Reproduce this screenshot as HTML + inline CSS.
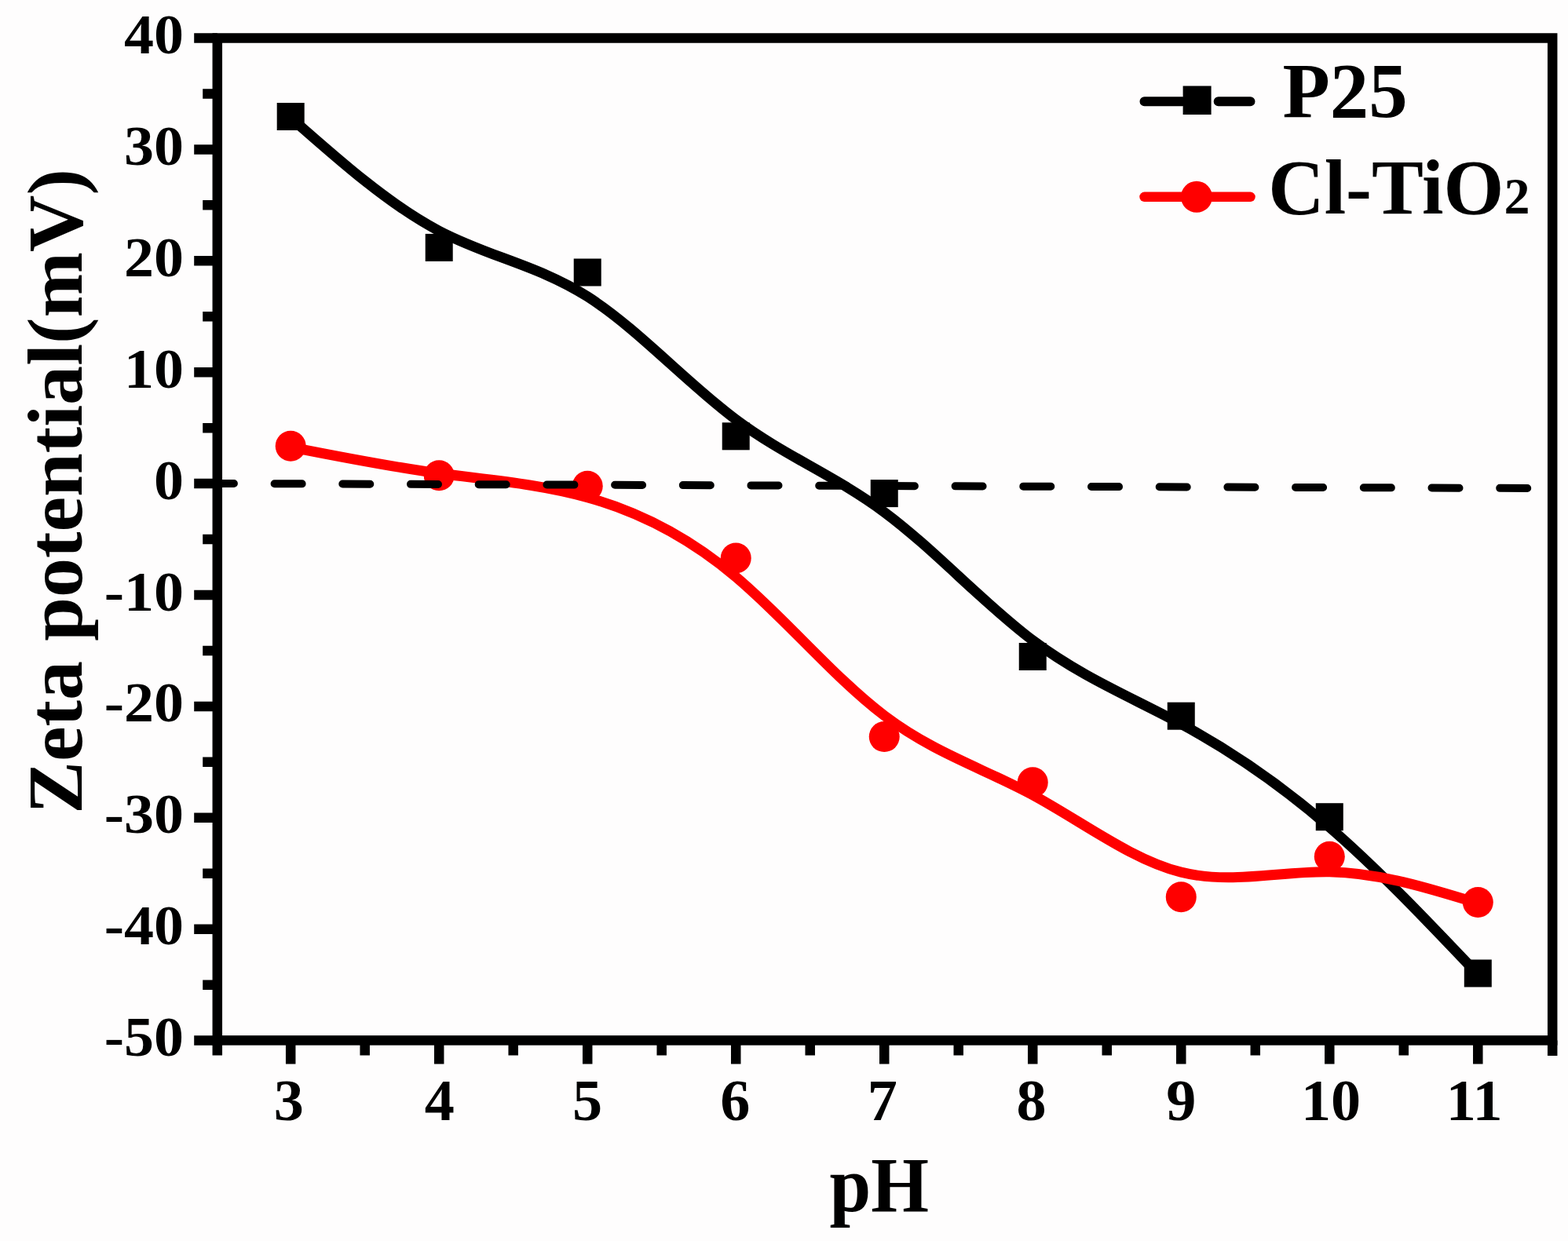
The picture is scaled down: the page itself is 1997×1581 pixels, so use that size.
<!DOCTYPE html>
<html><head><meta charset="utf-8"><title>Zeta potential vs pH</title>
<style>html,body{margin:0;padding:0;background:#fefdfd;}svg{display:block;}svg text{font-family:"Liberation Serif","Times New Roman",serif;font-weight:bold;}</style>
</head><body>
<svg width="1997" height="1581" viewBox="0 0 1997 1581"><rect x="0" y="0" width="1997" height="1581" fill="#fefdfd"/>
<path d="M247.2,1325.40H276.8 M247.2,1183.70H276.8 M247.2,1041.80H276.8 M247.2,899.90H276.8 M247.2,758.00H276.8 M247.2,616.10H276.8 M247.2,474.20H276.8 M247.2,332.30H276.8 M247.2,190.40H276.8 M247.2,48.50H276.8 M258.2,1254.65H276.8 M258.2,1112.75H276.8 M258.2,970.85H276.8 M258.2,828.95H276.8 M258.2,687.05H276.8 M258.2,545.15H276.8 M258.2,403.25H276.8 M258.2,261.35H276.8 M258.2,119.45H276.8 M370.20,1325.4V1355.5 M559.21,1325.4V1355.5 M748.22,1325.4V1355.5 M937.23,1325.4V1355.5 M1126.24,1325.4V1355.5 M1315.25,1325.4V1355.5 M1504.26,1325.4V1355.5 M1693.27,1325.4V1355.5 M1882.28,1325.4V1355.5 M464.70,1325.4V1344.5 M653.71,1325.4V1344.5 M842.72,1325.4V1344.5 M1031.73,1325.4V1344.5 M1220.74,1325.4V1344.5 M1409.75,1325.4V1344.5 M1598.77,1325.4V1344.5 M1787.77,1325.4V1344.5 M276.8,1325.4V1344.5 M1977.2,1325.4V1345" stroke="#000" stroke-width="12.5" fill="none"/>
<rect x="276.8" y="48.5" width="1700.40" height="1276.90" fill="none" stroke="#000" stroke-width="12.5"/>
<g font-weight="bold" font-size="72" fill="#000"><text transform="translate(234.0,1344.90) scale(1.055,1)" text-anchor="end">-50</text><text transform="translate(234.0,1203.20) scale(1.055,1)" text-anchor="end">-40</text><text transform="translate(234.0,1061.30) scale(1.055,1)" text-anchor="end">-30</text><text transform="translate(234.0,919.40) scale(1.055,1)" text-anchor="end">-20</text><text transform="translate(234.0,777.50) scale(1.055,1)" text-anchor="end">-10</text><text transform="translate(234.0,635.60) scale(1.055,1)" text-anchor="end">0</text><text transform="translate(234.0,493.70) scale(1.055,1)" text-anchor="end">10</text><text transform="translate(234.0,351.80) scale(1.055,1)" text-anchor="end">20</text><text transform="translate(234.0,209.90) scale(1.055,1)" text-anchor="end">30</text><text transform="translate(234.0,68.00) scale(1.055,1)" text-anchor="end">40</text><text transform="translate(367.70,1426.6) scale(1.03,1)" font-size="74" text-anchor="middle">3</text><text transform="translate(559.71,1426.6) scale(1.03,1)" font-size="74" text-anchor="middle">4</text><text transform="translate(747.97,1426.6) scale(1.03,1)" font-size="74" text-anchor="middle">5</text><text transform="translate(936.23,1426.6) scale(1.03,1)" font-size="74" text-anchor="middle">6</text><text transform="translate(1123.74,1426.6) scale(1.03,1)" font-size="74" text-anchor="middle">7</text><text transform="translate(1313.65,1426.6) scale(1.03,1)" font-size="74" text-anchor="middle">8</text><text transform="translate(1504.36,1426.6) scale(1.03,1)" font-size="74" text-anchor="middle">9</text><text transform="translate(1695.02,1426.6) scale(1.03,1)" font-size="74" text-anchor="middle">10</text><text transform="translate(1877.63,1426.6) scale(1.03,1)" font-size="74" text-anchor="middle">11</text></g>
<text transform="translate(1119.7,1542.7) scale(0.96,1)" font-weight="bold" font-size="98.8" text-anchor="middle" fill="#000">pH</text>
<text transform="translate(104,626) rotate(-90)" font-weight="bold" font-size="100.3" text-anchor="middle" fill="#000">Zeta potential(mV)</text>
<path transform="translate(0,1.3)" d="M370.20,148.50 C433.20,204.13 496.21,259.77 559.21,292.85 C622.21,325.93 685.22,336.47 748.22,376.53 C811.22,416.60 874.23,486.20 937.23,533.13 C1000.23,580.07 1063.24,604.33 1126.24,651.12 C1189.24,697.90 1252.25,767.20 1315.25,814.47 C1378.25,861.73 1441.26,886.97 1504.26,921.00 C1567.26,955.03 1630.27,997.87 1693.27,1052.50 C1756.27,1107.13 1819.28,1173.57 1882.28,1240.00" stroke="#000" stroke-width="13" fill="none" stroke-linejoin="round"/>
<rect x="352.70" y="131.00" width="35" height="35" fill="#000"/>
<rect x="541.71" y="297.90" width="35" height="35" fill="#000"/>
<rect x="730.72" y="329.50" width="35" height="35" fill="#000"/>
<rect x="919.73" y="538.30" width="35" height="35" fill="#000"/>
<rect x="1108.74" y="611.10" width="35" height="35" fill="#000"/>
<rect x="1297.75" y="819.00" width="35" height="35" fill="#000"/>
<rect x="1486.76" y="894.70" width="35" height="35" fill="#000"/>
<rect x="1675.77" y="1023.20" width="35" height="35" fill="#000"/>
<rect x="1864.78" y="1222.50" width="35" height="35" fill="#000"/>
<path transform="translate(0,1.3)" d="M370.20,568.30 C433.20,580.77 496.21,593.23 559.21,601.73 C622.21,610.23 685.22,614.77 748.22,632.32 C811.22,649.87 874.23,680.43 937.23,733.65 C1000.23,786.87 1063.24,862.73 1126.24,910.37 C1189.24,958.00 1252.25,977.40 1315.25,1011.43 C1378.25,1045.47 1441.26,1094.13 1504.26,1109.87 C1567.26,1125.60 1630.27,1108.40 1693.27,1109.52 C1756.27,1110.63 1819.28,1130.07 1882.28,1149.50" stroke="#f00" stroke-width="13" fill="none" stroke-linejoin="round"/>
<circle cx="370.20" cy="568.30" r="19.5" fill="#f00"/>
<circle cx="559.21" cy="605.70" r="19.5" fill="#f00"/>
<circle cx="748.22" cy="619.30" r="19.5" fill="#f00"/>
<circle cx="937.23" cy="711.00" r="19.5" fill="#f00"/>
<circle cx="1126.24" cy="938.60" r="19.5" fill="#f00"/>
<circle cx="1315.25" cy="996.80" r="19.5" fill="#f00"/>
<circle cx="1504.26" cy="1142.80" r="19.5" fill="#f00"/>
<circle cx="1693.27" cy="1091.20" r="19.5" fill="#f00"/>
<circle cx="1882.28" cy="1149.50" r="19.5" fill="#f00"/>
<path d="M262.90,615.93L297.90,616.05 M349.60,616.24L384.60,616.36 M436.30,616.55L471.30,616.68 M523.00,616.86L558.00,616.99 M609.70,617.17L644.70,617.30 M696.40,617.49L731.40,617.61 M783.10,617.80L818.10,617.92 M869.80,618.11L904.80,618.24 M956.50,618.42L991.50,618.55 M1043.20,618.73L1078.20,618.86 M1129.90,619.05L1164.90,619.17 M1216.60,619.36L1251.60,619.48 M1303.30,619.67L1338.30,619.80 M1390.00,619.98L1425.00,620.11 M1476.70,620.29L1511.70,620.42 M1563.40,620.61L1598.40,620.73 M1650.10,620.92L1685.10,621.05 M1736.80,621.23L1771.80,621.36 M1823.50,621.54L1858.50,621.67 M1910.20,621.86L1945.20,621.98" stroke="#000" stroke-width="10" stroke-linecap="round" fill="none"/>
<path d="M1457.5,129.2H1506 M1551.7,129.2H1592.5" stroke="#000" stroke-width="12" stroke-linecap="round" fill="none"/>
<rect x="1506.6" y="109.5" width="36" height="36.5" fill="#000"/>
<path d="M1457.5,250.8H1592.5" stroke="#f00" stroke-width="12.5" stroke-linecap="round" fill="none"/>
<circle cx="1524" cy="250.8" r="20" fill="#f00"/>
<text x="1633.5" y="149.4" font-weight="bold" font-size="98.8" fill="#000">P25</text>
<text x="1615.3" y="272" font-weight="bold" font-size="98.8" fill="#000">Cl-TiO<tspan font-size="66">2</tspan></text></svg>
</body></html>
